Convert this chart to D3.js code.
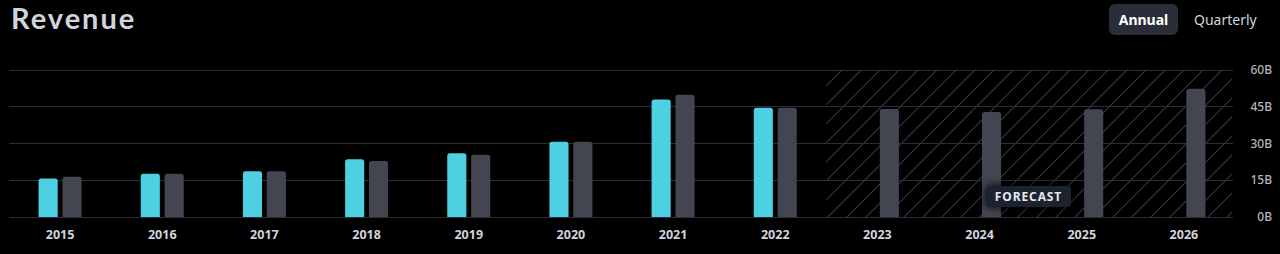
<!DOCTYPE html>
<html><head><meta charset="utf-8">
<script src="https://cdn.jsdelivr.net/npm/d3@7"></script>
<style>html,body{margin:0;padding:0;background:#000;overflow:hidden}svg{display:block}</style>
</head><body>
<svg id="c" width="1280" height="254"></svg>
<script>
const years = ["2015","2016","2017","2018","2019","2020","2021","2022","2023","2024","2025","2026"];
const reported = [15.7,17.6,18.6,23.5,25.9,30.6,47.8,44.4,null,null,null,null];
const estimate = [16.4,17.6,18.6,22.8,25.3,30.6,49.7,44.4,43.9,42.7,43.8,52.2];
const forecastYears = ["2023","2024","2025","2026"];
const yTicks = [0,15,30,45,60];
const series = ["reported","estimate"];
const colors = {reported:"#4dd0e1", estimate:"#434651"};

const svg = d3.select("#c");
const x0 = d3.scaleBand().domain(years).range([9,1235]).paddingInner(0).paddingOuter(0);
const bw = x0.bandwidth();
const x1 = d3.scaleBand().domain(series).range([bw/2-21.5, bw/2+21.5]).paddingInner(0.2);
const y = d3.scaleLinear().domain([0,60]).range([217,69.5]);

// hatch pattern
const defs = svg.append("defs");
const pat = defs.append("pattern").attr("id","hatch").attr("patternUnits","userSpaceOnUse")
  .attr("width",19).attr("height",19);
pat.append("path").attr("d","M-1,1 L1,-1 M0,19 L19,0 M18,20 L20,18")
  .attr("stroke","#343844").attr("stroke-width",1.1);
const f = defs.append("filter").attr("id","glow").attr("x","-50%").attr("y","-80%").attr("width","200%").attr("height","260%");
f.append("feDropShadow").attr("dx",0).attr("dy",0).attr("stdDeviation",5).attr("flood-color","#000").attr("flood-opacity",1);

const fx0 = x0(forecastYears[0]);
svg.append("rect").attr("x",fx0).attr("y",y(60)).attr("width",1232-fx0).attr("height",y(0)-y(60))
  .attr("fill","url(#hatch)");

// grid
const grid = svg.append("g");
grid.selectAll("line").data(yTicks).join("line")
  .attr("x1",9).attr("x2",1233).attr("y1",d=>Math.round(y(d))+0.5).attr("y2",d=>Math.round(y(d))+0.5)
  .attr("stroke","#2a2e39").attr("stroke-width",1);

// y axis labels
const yAxis = d3.axisRight(y).tickValues(yTicks).tickFormat(d=>d+"B").tickSize(0).tickPadding(0);
const ya = svg.append("g").attr("transform","translate(1272,0)").call(yAxis);
ya.select(".domain").remove();
ya.selectAll("text").attr("text-anchor","end").attr("fill","#b2b5be")
  .style("font-family","'Noto Sans'").style("font-size","12px").style("font-weight","500");

// x axis labels
const xAxis = d3.axisBottom(x0).tickSize(0).tickPadding(0);
const xa = svg.append("g").attr("transform","translate(0,230)").call(xAxis);
xa.select(".domain").remove();
xa.selectAll("text").attr("fill","#d1d4dc").attr("dy","0.71em")
  .style("font-family","'Noto Sans'").style("font-size","12.5px").style("font-weight","700");

// bars with rounded tops
function topRounded(x,yt,w,h,r){
  r=Math.min(r,h);
  return `M${x},${yt+h}V${yt+r}Q${x},${yt} ${x+r},${yt}H${x+w-r}Q${x+w},${yt} ${x+w},${yt+r}V${yt+h}Z`;
}
const rows = years.map((yr,i)=>({year:yr, reported:reported[i], estimate:estimate[i]}));
const g = svg.append("g");
g.selectAll("g").data(rows).join("g")
  .attr("transform",d=>`translate(${x0(d.year)},0)`)
  .selectAll("path").data(d=>series.filter(s=>d[s]!=null).map(s=>({s,v:d[s]}))).join("path")
  .attr("d",d=>topRounded(x1(d.s), y(d.v), x1.bandwidth(), y(0)-y(d.v), 2.5))
  .attr("fill",d=>colors[d.s]);

// forecast badge
const badge = svg.append("g").attr("transform","translate(986,186)");
badge.append("rect").attr("width",85).attr("height",21).attr("rx",4).attr("fill","#1e222d").attr("filter","url(#glow)");
badge.append("text").attr("x",42.5).attr("y",11).attr("dy","0.36em").attr("text-anchor","middle")
  .attr("fill","#e6e8ee").style("font-family","'Noto Sans'").style("font-size","12px").style("font-weight","700")
  .style("letter-spacing","0.9px").text("FORECAST");

// title
svg.append("text").attr("x",11).attr("y",29).attr("fill","#d1d4dc")
  .style("font-family","Lato").style("font-size","29px").style("font-weight","700")
  .style("letter-spacing","2px").text("Revenue");

// toggle
svg.append("rect").attr("x",1109).attr("y",4).attr("width",69).attr("height",31).attr("rx",6).attr("fill","#2a2e39");
svg.append("text").attr("x",1143.5).attr("y",20).attr("dy","0.36em").attr("text-anchor","middle").attr("fill","#ffffff")
  .style("font-family","'Noto Sans'").style("font-size","14px").style("font-weight","700").text("Annual");
svg.append("text").attr("x",1194).attr("y",20).attr("dy","0.36em").attr("fill","#d1d4dc")
  .style("font-family","'Noto Sans'").style("font-size","14px").style("font-weight","400").text("Quarterly");
</script>
</body></html>
